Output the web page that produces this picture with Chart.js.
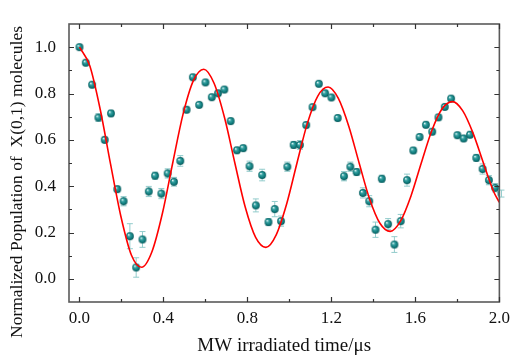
<!DOCTYPE html>
<html>
<head>
<meta charset="utf-8">
<script src="https://cdn.jsdelivr.net/npm/chart.js@4.4.1/dist/chart.umd.min.js"></script>
<style>
  html, body { margin: 0; padding: 0; background: #fff; }
  #wrap { width: 516px; height: 356px; }
</style>
</head>
<body>
<div id="wrap"><canvas id="rabiChart" width="516" height="356"></canvas></div>
<script>
// measured population (points) with error bars
const times = [0.00, 0.03, 0.06, 0.09, 0.12, 0.15, 0.18, 0.21, 0.24, 0.27, 0.30, 0.33, 0.36, 0.39, 0.42, 0.45, 0.48,
  0.51, 0.54, 0.57, 0.60, 0.63, 0.66, 0.69, 0.72, 0.75, 0.78, 0.81, 0.84, 0.87, 0.90, 0.93, 0.96, 0.99,
  1.02, 1.05, 1.08, 1.11, 1.14, 1.17, 1.20, 1.23, 1.26, 1.29, 1.32, 1.35, 1.38, 1.41, 1.44, 1.47, 1.50,
  1.53, 1.56, 1.59, 1.62, 1.65, 1.68, 1.71, 1.74, 1.77, 1.80, 1.83, 1.86, 1.89, 1.92, 1.95, 1.98, 2.01];
const population = [1.000, 0.933, 0.838, 0.696, 0.600, 0.714, 0.387, 0.335, 0.184, 0.049, 0.170, 0.377, 0.445, 0.368, 0.455, 0.419, 0.509,
  0.730, 0.870, 0.751, 0.848, 0.784, 0.801, 0.817, 0.681, 0.555, 0.564, 0.486, 0.317, 0.448, 0.245, 0.301, 0.249, 0.484,
  0.578, 0.578, 0.664, 0.741, 0.842, 0.801, 0.783, 0.694, 0.443, 0.484, 0.461, 0.371, 0.335, 0.212, 0.432, 0.236, 0.148,
  0.249, 0.426, 0.554, 0.612, 0.665, 0.635, 0.697, 0.742, 0.778, 0.620, 0.606, 0.622, 0.522, 0.474, 0.426, 0.393, 0.368];
const errors = [0.010, 0.010, 0.010, 0.016, 0.012, 0.012, 0.012, 0.020, 0.054, 0.042, 0.034, 0.022, 0.015, 0.022, 0.020, 0.019, 0.023,
  0.012, 0.010, 0.010, 0.010, 0.010, 0.010, 0.010, 0.012, 0.012, 0.012, 0.022, 0.028, 0.025, 0.015, 0.033, 0.022, 0.020,
  0.015, 0.019, 0.012, 0.010, 0.010, 0.010, 0.010, 0.012, 0.020, 0.020, 0.015, 0.022, 0.024, 0.033, 0.015, 0.024, 0.034,
  0.029, 0.026, 0.012, 0.012, 0.012, 0.012, 0.012, 0.010, 0.010, 0.012, 0.012, 0.012, 0.015, 0.022, 0.020, 0.018, 0.015];

// fitted curve (red line)
const fitTimes = [0, 0.049, 0.099, 0.148, 0.197, 0.247, 0.296, 0.345, 0.395, 0.444, 0.493, 0.543, 0.592, 0.641,
  0.691, 0.740, 0.789, 0.839, 0.888, 0.937, 0.987, 1.036, 1.085, 1.135, 1.184, 1.233, 1.283, 1.332,
  1.381, 1.431, 1.480, 1.529, 1.579, 1.628, 1.677, 1.727, 1.776, 1.825, 1.875, 1.924, 1.973, 2.0];
const fitValues = [1.000, 0.920, 0.730, 0.495, 0.270, 0.103, 0.050, 0.117, 0.283, 0.500, 0.710, 0.857, 0.905, 0.844,
  0.695, 0.500, 0.311, 0.179, 0.136, 0.190, 0.324, 0.500, 0.670, 0.789, 0.828, 0.779, 0.658, 0.500,
  0.347, 0.240, 0.205, 0.249, 0.358, 0.500, 0.637, 0.734, 0.765, 0.726, 0.628, 0.500, 0.376, 0.330];

// axis ticks
const xTickValues = [0, 0.4, 0.8, 1.2, 1.6, 2.0];
const xMinorValues = [0.2, 0.6, 1.0, 1.4, 1.8];
const yTickValues = [0, 0.2, 0.4, 0.6, 0.8, 1.0];
const yMinorValues = [0.1, 0.3, 0.5, 0.7, 0.9];

const FONT = '"Liberation Serif", "Times New Roman", serif';

// little shaded ball used as point marker
function makeBall(r) {
    const size = Math.ceil(r * 2) + 2;
    const c = document.createElement('canvas');
    c.width = size; c.height = size;
    const g = c.getContext('2d');
    const cx = size / 2, cy = size / 2;
    const grad = g.createRadialGradient(cx - r * 0.35, cy - r * 0.4, 0.2, cx, cy, r);
    grad.addColorStop(0, '#eefcfc');
    grad.addColorStop(0.3, '#3aa5a5');
    grad.addColorStop(0.75, '#0e7a7b');
    grad.addColorStop(1, '#095859');
    g.fillStyle = grad;
    g.beginPath();
    g.arc(cx, cy, r, 0, Math.PI * 2);
    g.fill();
    return c;
}

const errorBars = {
    id: 'errorBars',
    beforeDatasetsDraw(chart) {
        const ctx = chart.ctx;
        const xs = chart.scales.x, ys = chart.scales.y;
        ctx.save();
        ctx.strokeStyle = '#93cccc';
        ctx.lineWidth = 1;
        times.forEach((t, i) => {
            const px = xs.getPixelForValue(t);
            const top = ys.getPixelForValue(population[i] + errors[i]);
            const bot = ys.getPixelForValue(population[i] - errors[i]);
            ctx.beginPath();
            ctx.moveTo(px, top); ctx.lineTo(px, bot);
            ctx.moveTo(px - 3, top); ctx.lineTo(px + 3, top);
            ctx.moveTo(px - 3, bot); ctx.lineTo(px + 3, bot);
            ctx.stroke();
        });
        ctx.restore();
    }
};

const frameAndTicks = {
    id: 'frameAndTicks',
    afterDraw(chart) {
        const ctx = chart.ctx;
        const a = chart.chartArea;
        const xs = chart.scales.x, ys = chart.scales.y;
        ctx.save();
        ctx.strokeStyle = '#5a5a5a';
        ctx.lineWidth = 1.6;
        ctx.strokeRect(a.left, a.top, a.right - a.left, a.bottom - a.top);
        ctx.lineWidth = 1.2;
        ctx.strokeStyle = '#333';
        ctx.beginPath();
        const xt = (v, len) => {
            const px = Math.round(xs.getPixelForValue(v)) + 0.5;
            ctx.moveTo(px, a.bottom); ctx.lineTo(px, a.bottom - len);
            ctx.moveTo(px, a.top); ctx.lineTo(px, a.top + len);
        };
        const yt = (v, len) => {
            const py = Math.round(ys.getPixelForValue(v)) + 0.5;
            ctx.moveTo(a.left, py); ctx.lineTo(a.left + len, py);
            ctx.moveTo(a.right, py); ctx.lineTo(a.right - len, py);
        };
        xTickValues.forEach(v => xt(v, 5));
        xMinorValues.forEach(v => xt(v, 3));
        yTickValues.forEach(v => yt(v, 5));
        yMinorValues.forEach(v => yt(v, 3));
        ctx.stroke();

        // y axis title
        ctx.fillStyle = '#111';
        ctx.font = '17.5px ' + FONT;
        ctx.textAlign = 'center';
        ctx.textBaseline = 'middle';
        ctx.translate(17, 182);
        ctx.rotate(-Math.PI / 2);
        ctx.fillText('Normalized Population of  X(0,1) molecules', 0, 0);
        ctx.restore();
    }
};

const ctx = document.getElementById('rabiChart').getContext('2d');
const rabiChart = new Chart(ctx, {
    type: 'scatter',
    data: {
        datasets: [
            {
                label: 'fit',
                data: fitTimes.map((t, i) => ({ x: t, y: fitValues[i] })),
                showLine: true,
                borderColor: '#ff0000',
                borderWidth: 1.6,
                pointRadius: 0,
                cubicInterpolationMode: 'monotone',
                order: 0
            },
            {
                label: 'data',
                data: times.map((t, i) => ({ x: t, y: population[i] })),
                pointStyle: makeBall(3.9),
                pointRadius: 4,
                order: 1
            }
        ]
    },
    options: {
        responsive: false,
        animation: false,
        events: [],
        layout: { padding: { left: 0, right: 13, top: 24, bottom: 0 } },
        plugins: {
            legend: { display: false },
            tooltip: { enabled: false }
        },
        scales: {
            x: {
                type: 'linear',
                min: -0.05,
                max: 2.0,
                afterFit: s => { s.height = 54; },
                afterBuildTicks: s => { s.ticks = xTickValues.map(v => ({ value: v })); },
                grid: { display: false, drawTicks: false },
                border: { display: false },
                ticks: {
                    padding: 6,
                    maxRotation: 0,
                    color: '#111',
                    font: { family: FONT, size: 17 },
                    callback: v => Number(v).toFixed(1)
                },
                title: {
                    display: true,
                    text: 'MW irradiated time/\u03bcs',
                    color: '#111',
                    font: { family: FONT, size: 19, lineHeight: 1 },
                    padding: { top: 0, bottom: 0 }
                }
            },
            y: {
                type: 'linear',
                min: -0.1,
                max: 1.1,
                afterFit: s => { s.width = 69; },
                afterBuildTicks: s => { s.ticks = yTickValues.map(v => ({ value: v })); },
                grid: { display: false, drawTicks: false },
                border: { display: false },
                ticks: {
                    padding: 13,
                    color: '#111',
                    font: { family: FONT, size: 17 },
                    callback: v => Number(v).toFixed(1)
                }
            }
        }
    },
    plugins: [errorBars, frameAndTicks]
});
</script>
</body>
</html>
